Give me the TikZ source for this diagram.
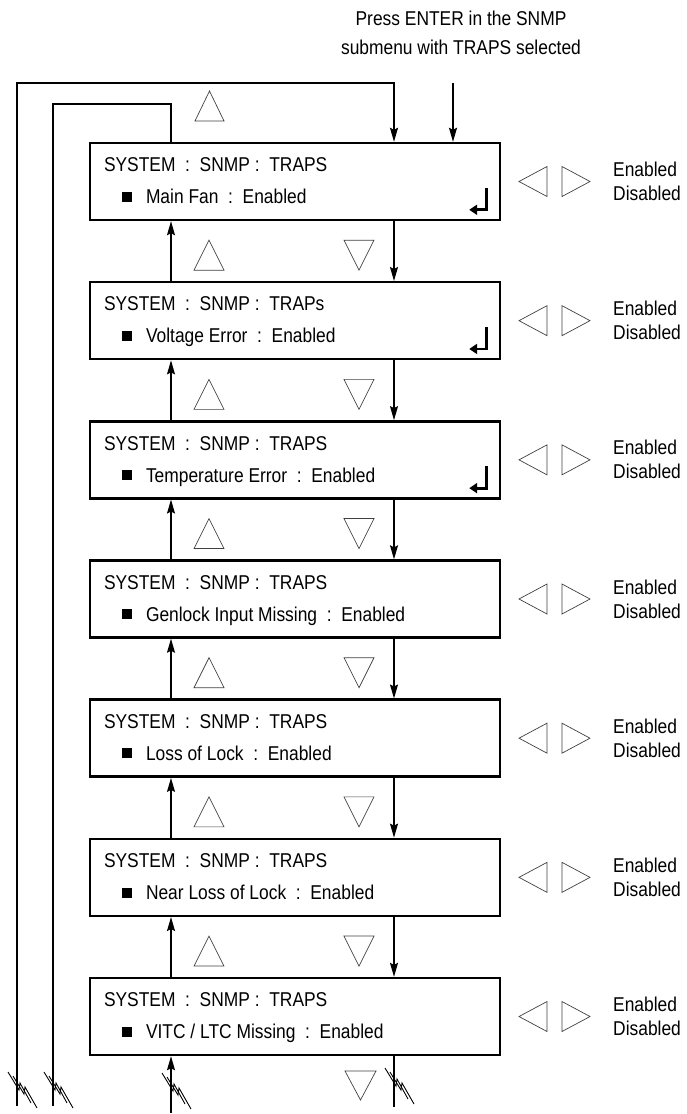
\documentclass[tikz,border=0pt]{standalone}
\usepackage{fontspec}
\setmainfont[FakeStretch=0.87]{Liberation Sans}
\usetikzlibrary{arrows.meta,calc}
\begin{document}
\begin{tikzpicture}[x=1pt,y=-1pt,
  box/.style={draw,line width=2.4pt,minimum width=410pt,minimum height=77pt,inner sep=0pt},
  wire/.style={line width=1.3pt},
  arr/.style={wire,-{Stealth[length=14pt,width=8pt,inset=2pt]}},
  keytri/.style={draw=black!75,line width=0.7pt,line join=miter},
  txt/.style={font=\fontsize{20}{28.5}\selectfont,inner sep=0pt},
  brkline/.style={line width=0.9pt},
  brk/.pic={
    \draw[brkline] (-9,-20) -- (2,-2) -- (3,-9) -- (14,11);
    \draw[brkline] (-4,-16) -- (7,2) -- (8,-5) -- (20,16);
  }
]
\useasboundingbox (0,0) rectangle (686,1114);

% named columns
\coordinate (UX) at (171,0);
\coordinate (DX) at (394,0);

% title and entry arrow
\node[txt,align=center] (title) at (461,33) {Press ENTER in the SNMP\\submenu with TRAPS selected};
\coordinate (entry) at (453,83);

% boxes
\foreach \i/\hd/\item in {
  1/TRAPS/{Main Fan},
  2/TRAPs/{Voltage Error},
  3/TRAPS/{Temperature Error},
  4/TRAPS/{Genlock Input Missing},
  5/TRAPS/{Loss of Lock},
  6/TRAPS/{Near Loss of Lock},
  7/TRAPS/{VITC / LTC Missing}}{
  \pgfmathsetmacro\cy{181.5+(\i-1)*139.17}
  \node[box] (b\i) at (295,\cy) {};
  \node[txt,anchor=base west] (h\i) at ($(b\i.north west)+(15,30)$) {SYSTEM\ \ :\ \ SNMP\ :\ \ \hd};
  \node[txt,anchor=base west] (r\i) at ($(b\i.north west)+(33,62)$) {\rule[2pt]{10pt}{10pt}\hspace{14pt}\item\ \ :\ \ Enabled};
  % left / right keys
  \draw[keytri] (547,\cy-15) -- (519,\cy) -- (547,\cy+15) -- cycle;
  \draw[keytri] (562,\cy-15) -- (590,\cy) -- (562,\cy+15) -- cycle;
  \node[txt,anchor=base west] (en\i) at (613,\cy-5) {Enabled};
  \node[txt,anchor=base west] (dis\i) at (613,\cy+19) {Disabled};
}

% enter symbols
\foreach \i in {1,2,3}{
  \draw[line width=2.8pt,-{Triangle[length=8pt,width=10pt]}]
    ($(b\i.north east)+(-15,46)$) -- ($(b\i.north east)+(-15,68)$) -- ($(b\i.north east)+(-32,68)$);
}

% connectors between boxes
\foreach \i/\j in {1/2,2/3,3/4,4/5,5/6,6/7}{
  \draw[arr] (b\j.north -| UX) -- (b\i.south -| UX);
  \draw[arr] (b\i.south -| DX) -- (b\j.north -| DX);
  \draw[keytri] ($(b\i.south -| UX)+(23,49)$) -- ($(b\i.south -| UX)+(38,19)$) -- ($(b\i.south -| UX)+(53,49)$) -- cycle;
  \draw[keytri] ($(b\i.south -| DX)+(-50,19)$) -- ($(b\i.south -| DX)+(-20,19)$) -- ($(b\i.south -| DX)+(-35,49)$) -- cycle;
}

% top
\draw[keytri] (195,121) -- (209.5,91) -- (224,121) -- cycle;
\draw[arr] (entry) -- (b1.north -| entry);
\coordinate (o1) at (17,1106);
\coordinate (o2) at (17,83);
\coordinate (o3) at (394,83);
\draw[arr] (o1) -- (o2) -- (o3) -- (b1.north -| DX);
\coordinate (i1) at (171,104);
\coordinate (i2) at (53,104);
\coordinate (i3) at (53,1106);
\draw[wire] (b1.north -| UX) -- (i1) -- (i2) -- (i3);

% bottom
\coordinate (bu) at (171,1113);
\draw[arr] (bu) -- (b7.south -| UX);
\coordinate (bd) at (394,1107);
\draw[wire] (b7.south -| DX) -- (bd);
\draw[keytri] (345,1071) -- (376,1071) -- (360.5,1100) -- cycle;

\pic at (17,1092) {brk};
\pic at (53,1092) {brk};
\pic at (171,1093) {brk};
\pic at (394,1088) {brk};
\end{tikzpicture}
\end{document}
